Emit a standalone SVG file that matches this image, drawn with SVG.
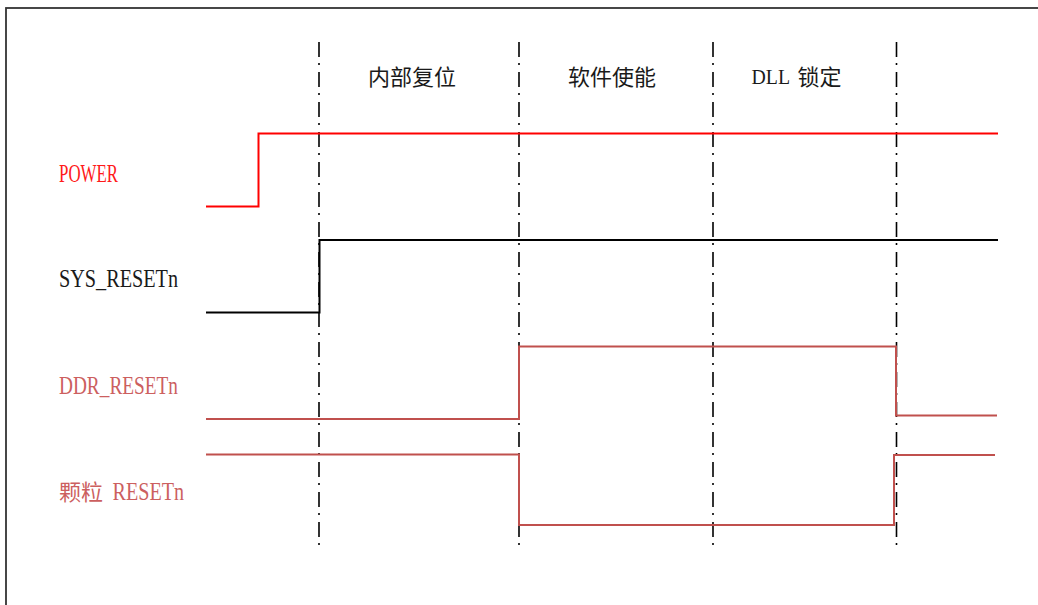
<svg xmlns="http://www.w3.org/2000/svg" width="1038" height="605" viewBox="0 0 1038 605">
<style>
.lat{font-family:"Liberation Serif","Times New Roman",serif;}
.cjk{font-family:"Noto Sans CJK SC","Noto Sans",sans-serif;}
.lbl{font-size:26px;}
.hdr{font-size:22px;fill:#1a1a1a;}
.grid{stroke:#000;stroke-width:1.6;fill:none;stroke-dasharray:15 6 2 7;}
.sig{fill:none;stroke-width:2;stroke-linejoin:miter;}
</style>
<rect x="0" y="0" width="1038" height="605" fill="#fff"/>
<rect x="6" y="8" width="1040" height="620" fill="none" stroke="#333" stroke-width="1.8"/>
<g id="grid-lines">
<line class="grid" x1="319" y1="42" x2="319" y2="546"/>
<line class="grid" x1="519" y1="42" x2="519" y2="546"/>
<line class="grid" x1="713" y1="42" x2="713" y2="546"/>
<line class="grid" x1="896.5" y1="42" x2="896.5" y2="546"/>
</g>
<g id="headers">
<text class="cjk hdr" x="368" y="85">内部复位</text>
<text class="cjk hdr" x="568" y="85">软件使能</text>
<text class="hdr" x="751.5" y="83.5"><tspan class="lat" font-size="20" textLength="38.5" lengthAdjust="spacingAndGlyphs">DLL</tspan><tspan class="cjk" x="797.5" y="85">锁定</tspan></text>
</g>
<g id="labels">
<text class="lat lbl" x="59" y="181.5" fill="#ff1a1a" textLength="59" lengthAdjust="spacingAndGlyphs">POWER</text>
<text class="lat lbl" x="59" y="287" fill="#1a1a1a" textLength="119" lengthAdjust="spacingAndGlyphs">SYS_RESETn</text>
<text class="lat lbl" x="59" y="394" fill="#cc5f5f" textLength="119" lengthAdjust="spacingAndGlyphs">DDR_RESETn</text>
<text x="59" y="500" fill="#cc5f5f"><tspan class="cjk" font-size="22">颗粒</tspan><tspan class="lat lbl" x="112.5" textLength="71.5" lengthAdjust="spacingAndGlyphs">RESETn</tspan></text>
</g>
<g id="signals">
<polyline id="power" class="sig" stroke="#ff0000" points="206,206.5 258.5,206.5 258.5,133.5 998,133.5"/>
<polyline id="sys-resetn" class="sig" stroke="#000" points="206,312.5 319.5,312.5 319.5,240 998,240"/>
<polyline id="ddr-resetn" class="sig" stroke="#c0504d" points="206,419 519,419 519,346.5 896,346.5 896,415.5 997,415.5"/>
<polyline id="chip-resetn" class="sig" stroke="#c0504d" points="206,454.5 519,454.5 519,525 894,525 894,455 995,455"/>
</g>
</svg>
